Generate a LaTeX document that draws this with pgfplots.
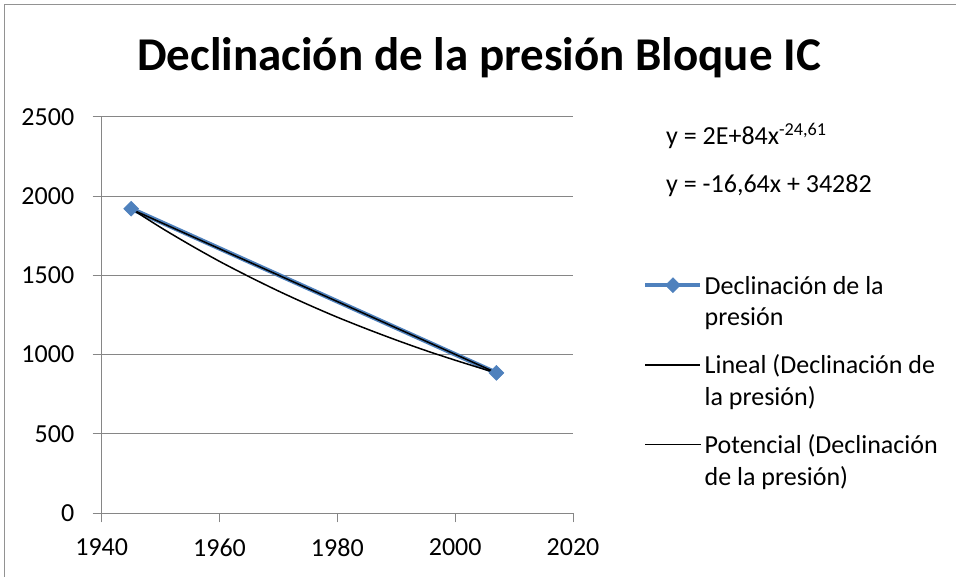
\documentclass[border=0pt]{standalone}
\usepackage{pgfplots}
\pgfplotsset{compat=1.18}
\usepackage{fontspec}
\setmainfont{Carlito}
\definecolor{serieblue}{RGB}{79,129,189}
\definecolor{gridgray}{RGB}{134,134,134}
\begin{document}
\begin{tikzpicture}[x=1bp,y=1bp]
\useasboundingbox (0,0) rectangle (956,577);
\draw[gridgray!90, line width=1bp] (4.5,0) -- (4.5,572.5) -- (956,572.5);
\node[font=\fontsize{47bp}{56bp}\selectfont\bfseries, anchor=base] at (479,506.3) {Declinación de la presión Bloque IC};
\node[anchor=base west, font=\fontsize{26bp}{31.7bp}\selectfont, inner sep=0] at (666,432) {y = 2E+84x\textsuperscript{-24,61}};
\node[anchor=base west, font=\fontsize{26bp}{31.7bp}\selectfont, inner sep=0] at (666,384) {y = -16,64x + 34282};
\begin{axis}[
  at={(101.7bp,63.7bp)}, anchor=south west,
  scale only axis, width=471.3bp, height=396.6bp,
  xmin=1940, xmax=2020, ymin=0, ymax=2500,
  xtick={1940,1960,1980,2000,2020},
  ytick={0,500,1000,1500,2000,2500},
  axis lines*=left,
  axis line style={gridgray, line width=1bp},
  ymajorgrids, grid style={gridgray, line width=1bp},
  tick align=outside, major tick length=9bp,
  tick style={gridgray, line width=1bp},
  tick label style={font=\fontsize{26bp}{31bp}\selectfont},
  yticklabel style={xshift=-15bp},
  xticklabel style={yshift=-13bp},
  /pgf/number format/assume math mode=true,
  /pgf/number format/set thousands separator={},
  clip=false,
  legend image code/.code={\draw[mark repeat=2,mark phase=2,#1] plot coordinates {(0bp,9bp) (27.5bp,9bp) (55bp,9bp)};},
  legend style={draw=none, fill=none, at={(1.1485,0.614)}, anchor=north west,
    inner sep=0pt, row sep=52bp, column sep=0bp,
    font=\fontsize{26bp}{31.7bp}\selectfont,
    cells={anchor=base west, inner sep=0pt}},
]
\addplot[serieblue, line width=4.5bp, mark=square*, mark size=5.3bp, mark options={rotate=45, fill=serieblue, draw=serieblue, line width=0.5bp}]
  coordinates {(1945,1920) (2007,885)};
\addlegendentry{\begin{tabular}[t]{@{}l@{}}Declinación de la\\presión\end{tabular}}
\addplot[black, line width=1.5bp]
  coordinates {(1945,1917.2) (2007,885.5)};
\addlegendentry{\begin{tabular}[t]{@{}l@{}}Lineal (Declinación de\\la presión)\end{tabular}}
\addplot[black, line width=1.5bp, smooth]
  coordinates {(1945,1920) (1950,1802) (1955,1692) (1960,1588) (1965,1492) (1970,1401) (1975,1316) (1980,1236) (1985,1162) (1990,1092) (1995,1026) (2000,965) (2005,907) (2007,885)};
\addlegendentry{\begin{tabular}[t]{@{}l@{}}Potencial (Declinación\\de la presión)\end{tabular}}
\end{axis}
\end{tikzpicture}
\end{document}
